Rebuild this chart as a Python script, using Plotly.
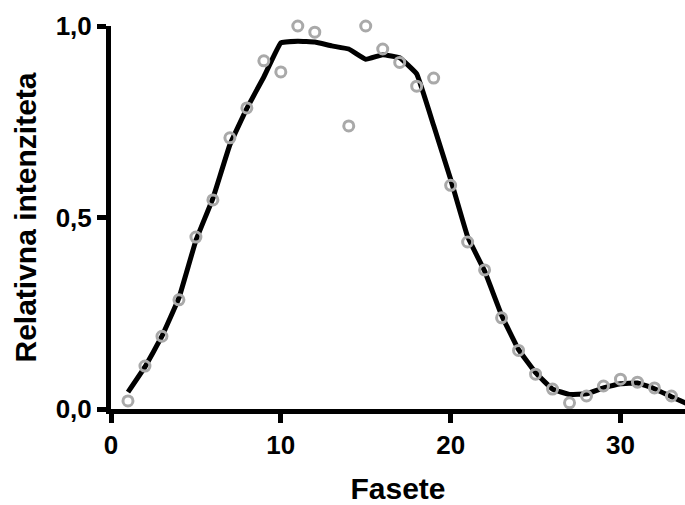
import plotly.graph_objects as go

# Data points (Fasete vs relative intensity)
x_points = [1, 2, 3, 4, 5, 6, 7, 8, 9, 10, 11, 12, 14, 15, 16, 17, 18, 19, 20,
            21, 22, 23, 24, 25, 26, 27, 28, 29, 30, 31, 32, 33, 34]
y_points = [0.021, 0.112, 0.19, 0.285, 0.449, 0.546, 0.708, 0.786, 0.909, 0.88,
            1.0, 0.984, 0.739, 1.0, 0.94, 0.905, 0.843, 0.864, 0.584,
            0.436, 0.363, 0.238, 0.153, 0.091, 0.052, 0.016, 0.034, 0.06, 0.078,
            0.07, 0.055, 0.034, 0.0]

# Fitted curve
x_curve = [1, 2, 3, 4, 5, 6, 7, 8, 9, 10, 11, 12, 13, 14, 15, 16, 17, 18, 19,
           20, 21, 22, 23, 24, 25, 26, 27, 28, 29, 30, 31, 32, 33, 34]
y_curve = [0.044, 0.11, 0.19, 0.29, 0.44, 0.55, 0.69, 0.785, 0.867, 0.956,
           0.96, 0.958, 0.948, 0.94, 0.913, 0.925, 0.917, 0.875, 0.74,
           0.6, 0.45, 0.36, 0.245, 0.155, 0.095, 0.052, 0.038, 0.04, 0.055,
           0.066, 0.068, 0.053, 0.032, 0.012]

y_tickvals = [0, 0.5, 1.0]
y_ticktext = ["0,0", "0,5", "1,0"]
x_tickvals = [0, 10, 20, 30]

FONT = "Liberation Sans, Arial, sans-serif"

fig = go.Figure()
fig.add_trace(go.Scatter(
    x=x_curve, y=y_curve, mode="lines",
    line=dict(color="black", width=5, shape="spline", smoothing=0.25),
    cliponaxis=False, showlegend=False, hoverinfo="skip"))
fig.add_trace(go.Scatter(
    x=x_points, y=y_points, mode="markers",
    marker=dict(symbol="circle-open", size=10, color="#a9a9a9",
                line=dict(width=3, color="#a9a9a9")),
    cliponaxis=False, showlegend=False))

fig.update_layout(
    width=685, height=505,
    margin=dict(l=111, r=0, t=26, b=96),
    paper_bgcolor="white", plot_bgcolor="white",
    font=dict(family=FONT, color="black"),
    xaxis=dict(
        range=[0, 33.8], tickvals=x_tickvals,
        showgrid=False, zeroline=False,
        showline=True, linecolor="black", linewidth=5,
        ticks="outside", ticklen=9, tickwidth=5, tickcolor="black",
        tickfont=dict(size=26, family=FONT, weight="bold"),
        title=dict(text="<b>Fasete</b>", font=dict(size=30, family=FONT), standoff=24),
    ),
    yaxis=dict(
        range=[0, 1.0], tickvals=y_tickvals, ticktext=y_ticktext,
        showgrid=False, zeroline=False,
        showline=True, linecolor="black", linewidth=5,
        ticks="outside", ticklen=9, tickwidth=5, tickcolor="black",
        tickfont=dict(size=26, family=FONT, weight="bold"),
        title=dict(text="<b>Relativna intenziteta</b>", font=dict(size=30, family=FONT), standoff=12),
    ),
)

fig.write_html("out.html")
